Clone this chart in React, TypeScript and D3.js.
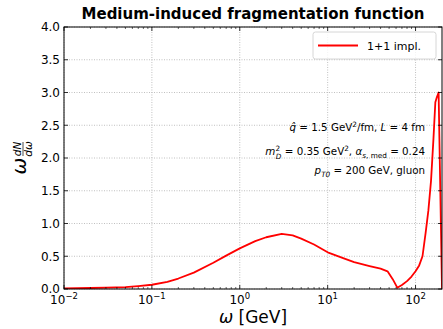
import React from "react";
import * as d3 from "d3";

const omega = [0.01, 0.02, 0.03, 0.05, 0.07, 0.1, 0.15, 0.2, 0.3, 0.5, 0.7, 1.0, 1.5, 2, 3, 4, 5, 7, 10, 15, 20, 30, 40, 48, 55, 62, 70, 80, 90, 100, 110, 120, 130, 140, 150, 160, 168, 175, 183, 200];
const dNdw = [0.01, 0.015, 0.02, 0.03, 0.045, 0.065, 0.11, 0.16, 0.25, 0.40, 0.51, 0.62, 0.73, 0.79, 0.84, 0.82, 0.77, 0.68, 0.56, 0.47, 0.41, 0.35, 0.31, 0.27, 0.15, 0.02, 0.06, 0.12, 0.19, 0.27, 0.36, 0.5, 0.85, 1.2, 1.65, 2.3, 2.85, 2.93, 3.0, 0.0];
const xTickExps = [-2, -1, 0, 1, 2];
const yTicks = [0, 0.5, 1, 1.5, 2, 2.5, 3, 3.5, 4];
const seriesName = "1+1 impl.";
const title = "Medium-induced fragmentation function";

const W = 443, H = 329;
const M = { left: 64, right: 442, top: 27, bottom: 289 };
const FONT = "DejaVu Sans";

export default function App() {
  const x = d3.scaleLog().domain([0.01, 200]).range([M.left, M.right]);
  const y = d3.scaleLinear().domain([0, 4]).range([M.bottom, M.top]);
  const data = omega.map((w, i) => [w, dNdw[i]] as [number, number]);
  const line = d3.line<[number, number]>().x(d => x(d[0])).y(d => y(d[1]));

  const minor: number[] = [];
  for (let e = -2; e <= 2; e++) {
    for (let k = 2; k <= 9; k++) {
      const v = k * Math.pow(10, e);
      if (v < 200) minor.push(v);
    }
  }

  return (
    <svg width={W} height={H} style={{ position: "absolute", left: 0, top: 0, background: "#fff" }} fontFamily={FONT}>
      <defs>
        <clipPath id="clip">
          <rect x={M.left} y={M.top} width={M.right - M.left} height={M.bottom - M.top} />
        </clipPath>
      </defs>
      {xTickExps.map(e => (
        <line key={"gx" + e} x1={x(Math.pow(10, e))} x2={x(Math.pow(10, e))} y1={M.top} y2={M.bottom} stroke="#b0b0b0" strokeWidth={0.8} strokeDasharray="1,1.5" />
      ))}
      {yTicks.map(t => (
        <line key={"gy" + t} x1={M.left} x2={M.right} y1={y(t)} y2={y(t)} stroke="#b0b0b0" strokeWidth={0.8} strokeDasharray="1,1.5" />
      ))}
      <path d={line(data) || ""} fill="none" stroke="#ff0000" strokeWidth={1.8} clipPath="url(#clip)" strokeLinejoin="round" />
      <rect x={M.left} y={M.top} width={M.right - M.left} height={M.bottom - M.top} fill="none" stroke="#000" strokeWidth={1} />
      {xTickExps.map(e => {
        const px = x(Math.pow(10, e));
        return (
          <g key={"xt" + e}>
            <line x1={px} x2={px} y1={M.bottom} y2={M.bottom - 4} stroke="#000" strokeWidth={0.8} />
            <line x1={px} x2={px} y1={M.top} y2={M.top + 4} stroke="#000" strokeWidth={0.8} />
            <text x={px} y={M.bottom + 15} fontSize={12} textAnchor="middle">
              10<tspan dy={-5.5} fontSize={8.5}>{e < 0 ? "\u2212" + Math.abs(e) : String(e)}</tspan>
            </text>
          </g>
        );
      })}
      {minor.map(v => {
        const px = x(v);
        return (
          <g key={"mx" + v}>
            <line x1={px} x2={px} y1={M.bottom} y2={M.bottom - 2} stroke="#000" strokeWidth={0.6} />
            <line x1={px} x2={px} y1={M.top} y2={M.top + 2} stroke="#000" strokeWidth={0.6} />
          </g>
        );
      })}
      {yTicks.map(t => (
        <g key={"yt" + t}>
          <line x1={M.left} x2={M.left + 4} y1={y(t)} y2={y(t)} stroke="#000" strokeWidth={0.8} />
          <line x1={M.right} x2={M.right - 4} y1={y(t)} y2={y(t)} stroke="#000" strokeWidth={0.8} />
          <text x={M.left - 4} y={y(t) + 4.3} fontSize={12} textAnchor="end">{t.toFixed(1)}</text>
        </g>
      ))}
      <text x={253} y={19} fontSize={15} fontWeight="bold" textAnchor="middle">{title}</text>
      <text x={253} y={323} fontSize={17} textAnchor="middle">
        <tspan fontStyle="italic">ω</tspan> [GeV]
      </text>
      <g transform={`translate(26, ${(M.top + M.bottom) / 2}) rotate(-90)`}>
        <text x={-8} y={0} fontSize={20} fontStyle="italic" textAnchor="middle">ω</text>
        <text x={9} y={-5} fontSize={10.5} fontStyle="italic" textAnchor="middle">dN</text>
        <line x1={2} x2={16} y1={-3} y2={-3} stroke="#000" strokeWidth={0.7} />
        <text x={9} y={6} fontSize={10.5} fontStyle="italic" textAnchor="middle">dω</text>
      </g>
      <rect x={313} y={32} width={123} height={27} rx={2.5} fill="#fff" fillOpacity={0.8} stroke="#cccccc" strokeWidth={0.8} />
      <line x1={318} x2={358} y1={45.5} y2={45.5} stroke="#ff0000" strokeWidth={1.8} />
      <text x={367} y={50} fontSize={11}>{seriesName}</text>
      <text x={425} y={131} fontSize={10.3} textAnchor="end">
        <tspan fontStyle="italic">q̂</tspan> = 1.5 GeV<tspan dy={-4.5} fontSize={7.3}>2</tspan><tspan dy={4.5}>/fm, </tspan><tspan fontStyle="italic">L</tspan> = 4 fm
      </text>
      <text x={425} y={155} fontSize={10.3} textAnchor="end">
        <tspan fontStyle="italic">m</tspan><tspan dy={-4.5} fontSize={7.3}>2</tspan><tspan dx={-4.2} dy={8} fontSize={7.3} fontStyle="italic">D</tspan><tspan dy={-3.5}> = 0.35 GeV</tspan><tspan dy={-4.5} fontSize={7.3}>2</tspan><tspan dy={4.5}>, </tspan><tspan fontStyle="italic">α</tspan><tspan dy={2.8} fontSize={7.3}><tspan fontStyle="italic">s</tspan>, med</tspan><tspan dy={-2.8}> = 0.24</tspan>
      </text>
      <text x={425} y={174} fontSize={10.3} textAnchor="end">
        <tspan fontStyle="italic">p</tspan><tspan dy={2.8} fontSize={7.3} fontStyle="italic">T0</tspan><tspan dy={-2.8}> = 200 GeV, gluon</tspan>
      </text>
    </svg>
  );
}
